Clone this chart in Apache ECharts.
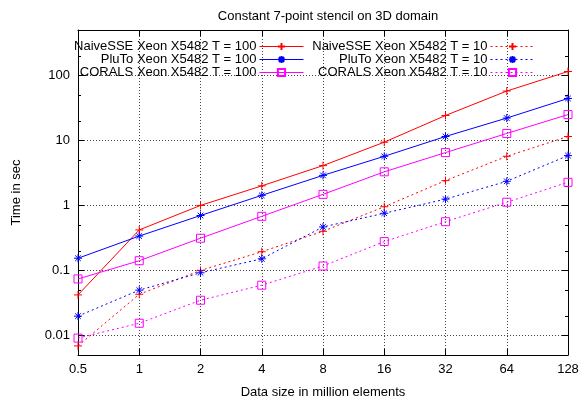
<!DOCTYPE html>
<html>
<head>
<meta charset="utf-8">
<script src="https://cdn.jsdelivr.net/npm/echarts@6/dist/echarts.min.js"></script>
<style>html,body{margin:0;padding:0;background:#fff}#c{width:586px;height:404px}</style>
</head>
<body>
<div id="c"></div>
<script>
// ---- data ----
var sizes = ['0.5', '1', '2', '4', '8', '16', '32', '64', '128'];
var naive100 = [0.042, 0.42, 1.0, 2.0, 4.1, 9.4, 24.2, 57.5, 115];
var pluto100 = [0.154, 0.338, 0.70, 1.43, 2.9, 5.7, 11.5, 22.1, 44.2];
var corals100 = [0.074, 0.141, 0.313, 0.68, 1.48, 3.29, 6.5, 12.8, 25];
var naive10 = [0.0069, 0.043, 0.100, 0.194, 0.40, 0.955, 2.41, 5.7, 11.5];
var pluto10 = [0.0198, 0.0498, 0.092, 0.151, 0.467, 0.758, 1.25, 2.35, 5.85];
var corals10 = [0.0091, 0.0154, 0.0348, 0.0593, 0.117, 0.278, 0.562, 1.12, 2.27];
var yMajor = [0.01, 0.1, 1, 10, 100];
var yMinor = [0.02, 0.05, 0.2, 0.5, 2, 5, 20, 50, 200];
var names = [
  'NaiveSSE Xeon X5482 T = 100', 'PluTo Xeon X5482 T = 100', 'CORALS Xeon X5482 T = 100',
  'NaiveSSE Xeon X5482 T = 10', 'PluTo Xeon X5482 T = 10', 'CORALS Xeon X5482 T = 10'
];

var FONT = '"Liberation Sans", Arial, Helvetica, sans-serif';
var FS = 13;
var RED = '#ff0000', BLUE = '#0000ff', MAG = '#ff00ff';
var PLUS = 'path://M0,5H10M5,0V10';
var STAR = 'path://M0,5H10M5,0V10M1.5,1.5L8.5,8.5M8.5,1.5L1.5,8.5';
var SQ = 'path://M0,0H10V10H0Z';

function mk(name, data, color, sym, dotted) {
  return {
    name: name, type: 'line', data: data, xAxisIndex: 0, yAxisIndex: 0,
    color: color,
    symbol: sym, symbolSize: 8, symbolKeepAspect: true, showAllSymbol: true,
    lineStyle: { color: color, width: 1, type: dotted ? [2, 3] : 'solid' },
    itemStyle: { color: 'transparent', borderColor: color, borderWidth: 1 },
    emphasis: { disabled: true }, z: 3
  };
}

var fmt = function (v) { return String(parseFloat(Number(v).toPrecision(6))); };
var axisLineStyle = { show: true, lineStyle: { color: '#000', width: 1 } };
function yAx(pos, vals, len, labels, split, line) {
  return {
    type: 'log', logBase: 10, min: 0.005, max: 500, position: pos,
    axisLine: line ? axisLineStyle : { show: false },
    axisTick: { show: true, inside: true, length: len, customValues: vals, lineStyle: { color: '#000' } },
    axisLabel: labels ? { show: true, customValues: vals, formatter: fmt, margin: 8, color: '#000', fontSize: FS, fontFamily: FONT } : { show: false },
    splitLine: split ? { show: true, lineStyle: { color: '#444', type: [1, 2], width: 1 } } : { show: false },
    minorTick: { show: false }
  };
}
function leg(data, right) {
  return {
    data: data, orient: 'vertical', align: 'right', right: right, top: 35,
    itemWidth: 44, itemHeight: 9, itemGap: 0, selectedMode: false,
    lineStyle: { width: 1 },
    textStyle: { fontSize: FS, lineHeight: 13, color: '#000', fontFamily: FONT, padding: [0, -2, 0, 0] }
  };
}

var chart = echarts.init(document.getElementById('c'), null, { renderer: 'canvas' });
chart.setOption({
  animation: false,
  backgroundColor: '#fff',
  title: {
    text: 'Constant 7-point stencil on 3D domain', left: 323, top: 5, textAlign: 'center',
    textStyle: { fontSize: FS, fontWeight: 'normal', color: '#000', fontFamily: FONT }
  },
  grid: { left: 78, right: 18, top: 30, bottom: 42, containLabel: false },
  legend: [leg(names.slice(0, 3), 277), leg(names.slice(3, 6), 46)],
  xAxis: [
    {
      type: 'category', data: sizes, boundaryGap: false, position: 'bottom',
      name: 'Data size in million elements', nameLocation: 'middle', nameGap: 31,
      nameTextStyle: { fontSize: FS, color: '#000', fontFamily: FONT },
      axisLine: axisLineStyle,
      axisTick: { show: true, inside: true, length: 6, alignWithLabel: true, lineStyle: { color: '#000' } },
      axisLabel: { margin: 8, color: '#000', fontSize: FS, fontFamily: FONT },
      splitLine: { show: true, lineStyle: { color: '#444', type: [1, 2], width: 1 } }
    },
    {
      type: 'category', data: sizes, boundaryGap: false, position: 'top',
      axisLine: axisLineStyle,
      axisTick: { show: true, inside: true, length: 6, lineStyle: { color: '#000' } },
      axisLabel: { show: false }, splitLine: { show: false }
    }
  ],
  yAxis: [
    Object.assign(yAx('left', yMajor, 6, true, true, true), {
      name: 'Time in sec', nameLocation: 'middle', nameGap: 55, nameRotate: 90,
      nameTextStyle: { fontSize: FS, color: '#000', fontFamily: FONT }
    }),
    yAx('right', yMajor, 6, false, false, true),
    yAx('left', yMinor, 3, false, false, false),
    yAx('right', yMinor, 3, false, false, false)
  ],
  series: [
    mk(names[0], naive100, RED, PLUS, false),
    mk(names[1], pluto100, BLUE, STAR, false),
    mk(names[2], corals100, MAG, SQ, false),
    mk(names[3], naive10, RED, PLUS, true),
    mk(names[4], pluto10, BLUE, STAR, true),
    mk(names[5], corals10, MAG, SQ, true)
  ]
});
</script>
</body>
</html>
